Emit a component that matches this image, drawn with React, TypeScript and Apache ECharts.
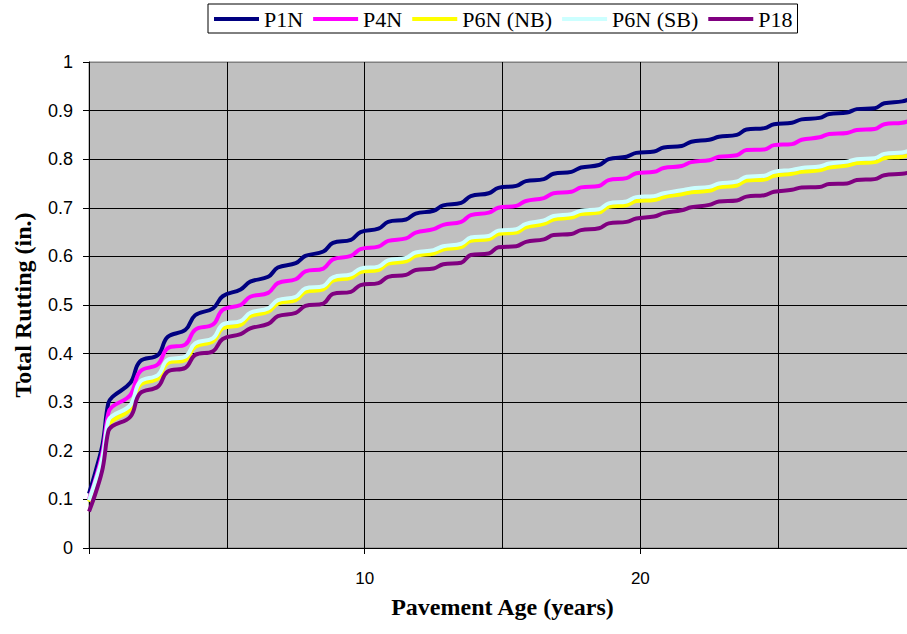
import React, { useEffect, useRef } from "react";
import * as echarts from "echarts";

const seriesNames = ["P1N", "P4N", "P6N (NB)", "P6N (SB)", "P18"];
const seriesColors = ["#000080", "#FF00FF", "#FFFF00", "#CCFFFF", "#800080"];

const years = [
  0, 0.25, 0.5, 0.7, 0.85,
  1.5, 1.85, 2.5, 2.85, 3.5, 3.85, 4.5, 4.85, 5.5, 5.85,
  6.5, 6.85, 7.5, 7.85, 8.5, 8.85, 9.5, 9.85, 10.5, 10.85,
  11.5, 11.85, 12.5, 12.85, 13.5, 13.85, 14.5, 14.85, 15.5, 15.85,
  16.5, 16.85, 17.5, 17.85, 18.5, 18.85, 19.5, 19.85, 20.5, 20.85,
  21.5, 21.85, 22.5, 22.85, 23.5, 23.85, 24.5, 24.85, 25.5, 25.85,
  26.5, 26.85, 27.5, 27.85, 28.5, 28.85, 29.5, 29.85,
];

const p1n = [
  0.112, 0.16, 0.216, 0.298, 0.311,
  0.34, 0.384, 0.397, 0.434, 0.449, 0.479, 0.493, 0.518, 0.532, 0.548,
  0.558, 0.577, 0.586, 0.601, 0.61, 0.628, 0.634, 0.65, 0.657, 0.671,
  0.676, 0.688, 0.694, 0.705, 0.71, 0.724, 0.73, 0.741, 0.745, 0.755,
  0.759, 0.77, 0.774, 0.783, 0.788, 0.8, 0.805, 0.813, 0.816, 0.824,
  0.827, 0.836, 0.84, 0.846, 0.85, 0.861, 0.864, 0.872, 0.875, 0.882,
  0.885, 0.893, 0.896, 0.903, 0.905, 0.915, 0.919, 0.925,
];

const p4n = [
  0.1, 0.145, 0.2, 0.277, 0.291,
  0.315, 0.363, 0.378, 0.411, 0.419, 0.449, 0.46, 0.49, 0.5, 0.517,
  0.525, 0.545, 0.553, 0.569, 0.575, 0.594, 0.601, 0.615, 0.62, 0.632,
  0.637, 0.649, 0.656, 0.665, 0.671, 0.685, 0.69, 0.7, 0.704, 0.714,
  0.72, 0.73, 0.733, 0.742, 0.745, 0.757, 0.761, 0.771, 0.774, 0.782,
  0.786, 0.794, 0.798, 0.805, 0.808, 0.819, 0.82, 0.829, 0.831, 0.84,
  0.845, 0.852, 0.854, 0.86, 0.862, 0.872, 0.875, 0.881,
];

const p6nNB = [
  0.095, 0.135, 0.185, 0.252, 0.262,
  0.286, 0.335, 0.349, 0.38, 0.387, 0.414, 0.425, 0.452, 0.459, 0.477,
  0.486, 0.503, 0.51, 0.527, 0.532, 0.55, 0.556, 0.568, 0.572, 0.585,
  0.59, 0.601, 0.606, 0.614, 0.619, 0.632, 0.635, 0.646, 0.649, 0.66,
  0.667, 0.676, 0.68, 0.687, 0.69, 0.702, 0.705, 0.714, 0.716, 0.722,
  0.728, 0.732, 0.735, 0.742, 0.746, 0.756, 0.758, 0.766, 0.77, 0.774,
  0.777, 0.783, 0.787, 0.792, 0.794, 0.802, 0.805, 0.81,
];

const p6nSB = [
  0.098, 0.14, 0.19, 0.262, 0.272,
  0.294, 0.342, 0.356, 0.387, 0.394, 0.421, 0.432, 0.46, 0.467, 0.484,
  0.493, 0.51, 0.517, 0.534, 0.539, 0.557, 0.563, 0.575, 0.579, 0.592,
  0.597, 0.608, 0.613, 0.621, 0.626, 0.639, 0.642, 0.653, 0.656, 0.667,
  0.674, 0.683, 0.687, 0.694, 0.697, 0.709, 0.713, 0.722, 0.724, 0.73,
  0.736, 0.74, 0.743, 0.75, 0.754, 0.764, 0.766, 0.774, 0.778, 0.782,
  0.785, 0.791, 0.795, 0.8, 0.802, 0.811, 0.814, 0.819,
];

const p18 = [
  0.075, 0.115, 0.165, 0.24, 0.251,
  0.27, 0.318, 0.332, 0.363, 0.371, 0.397, 0.405, 0.43, 0.44, 0.452,
  0.461, 0.477, 0.484, 0.498, 0.503, 0.523, 0.527, 0.541, 0.545, 0.558,
  0.562, 0.572, 0.575, 0.584, 0.587, 0.603, 0.606, 0.619, 0.621, 0.63,
  0.635, 0.644, 0.646, 0.654, 0.658, 0.668, 0.671, 0.678, 0.682, 0.689,
  0.695, 0.701, 0.706, 0.713, 0.715, 0.723, 0.726, 0.733, 0.737, 0.742,
  0.743, 0.749, 0.75, 0.757, 0.759, 0.767, 0.77, 0.774,
];

const seriesValues = [p1n, p4n, p6nNB, p6nSB, p18];

const xLabels = [10, 20];

const SERIF = "'Liberation Serif', 'Times New Roman', serif";
const SANS = "'Liberation Sans', Arial, sans-serif";

export default function App() {
  const ref = useRef<HTMLDivElement>(null);

  useEffect(() => {
    if (!ref.current) return;
    const chart = echarts.init(ref.current, undefined, { renderer: "svg" });

    const gridColors = [
      "#000", "#000", "#000", "#000", "#000", "#000",
      "#000", "#000", "#000", "#000", "#808080",
    ];

    chart.setOption({
      animation: false,
      backgroundColor: "#ffffff",
      legend: {
        left: 208,
        top: 4,
        padding: [4, 5, 3, 6],
        itemGap: 10,
        itemWidth: 45,
        itemHeight: 4,
        icon: "rect",
        backgroundColor: "#ffffff",
        borderColor: "#000",
        borderWidth: 1,
        borderRadius: 0,
        data: seriesNames,
        textStyle: {
          fontFamily: SERIF,
          fontSize: 22,
          color: "#000",
        },
      },
      grid: {
        left: 89,
        top: 62,
        right: 930 - 916,
        bottom: 634 - 548,
        show: true,
        backgroundColor: "#C0C0C0",
        borderColor: "#808080",
        borderWidth: 1,
      },
      xAxis: [
        {
          type: "value",
          min: 0,
          max: 30,
          interval: 5,
          axisLine: { show: true, lineStyle: { color: "#000", width: 1 } },
          axisTick: { show: false },
          axisLabel: { show: false },
          splitLine: { show: true, lineStyle: { color: "#000", width: 1 } },
          name: "Pavement Age (years)",
          nameLocation: "middle",
          nameGap: 47,
          nameTextStyle: {
            fontFamily: SERIF,
            fontSize: 24,
            fontWeight: "bold",
            color: "#000",
          },
        },
        {
          type: "value",
          position: "bottom",
          min: 0,
          max: 30,
          interval: 10,
          axisLine: { show: false },
          axisTick: { show: true, length: 6, lineStyle: { color: "#000" } },
          axisLabel: {
            show: true,
            margin: 22,
            fontFamily: SANS,
            fontSize: 17,
            color: "#000",
            formatter: (v: number) => (xLabels.indexOf(v) >= 0 ? String(v) : ""),
          },
          splitLine: { show: false },
        },
      ],
      yAxis: {
        type: "value",
        min: 0,
        max: 1,
        interval: 0.1,
        axisLine: { show: true, lineStyle: { color: "#000", width: 1 } },
        axisTick: { show: true, length: 6, lineStyle: { color: "#000" } },
        axisLabel: {
          margin: 16,
          fontFamily: SANS,
          fontSize: 18,
          color: "#000",
        },
        splitLine: { show: true, lineStyle: { color: gridColors, width: 1 } },
        name: "Total Rutting (in.)",
        nameLocation: "middle",
        nameRotate: 90,
        nameGap: 54,
        nameTextStyle: {
          fontFamily: SERIF,
          fontSize: 24,
          fontWeight: "bold",
          color: "#000",
        },
      },
      series: seriesNames.map((name, i) => ({
        name,
        type: "line",
        xAxisIndex: 0,
        data: years.map((t, j) => [t, seriesValues[i][j]]),
        showSymbol: false,
        symbol: "none",
        smooth: 0.4,
        clip: true,
        color: seriesColors[i],
        lineStyle: { color: seriesColors[i], width: 4 },
      })),
    });

    return () => chart.dispose();
  }, []);

  return (
    <div
      style={{
        position: "absolute",
        left: 0,
        top: 0,
        width: 907,
        height: 634,
        overflow: "hidden",
        background: "#fff",
      }}
    >
      <div ref={ref} style={{ width: 930, height: 634 }} />
    </div>
  );
}
